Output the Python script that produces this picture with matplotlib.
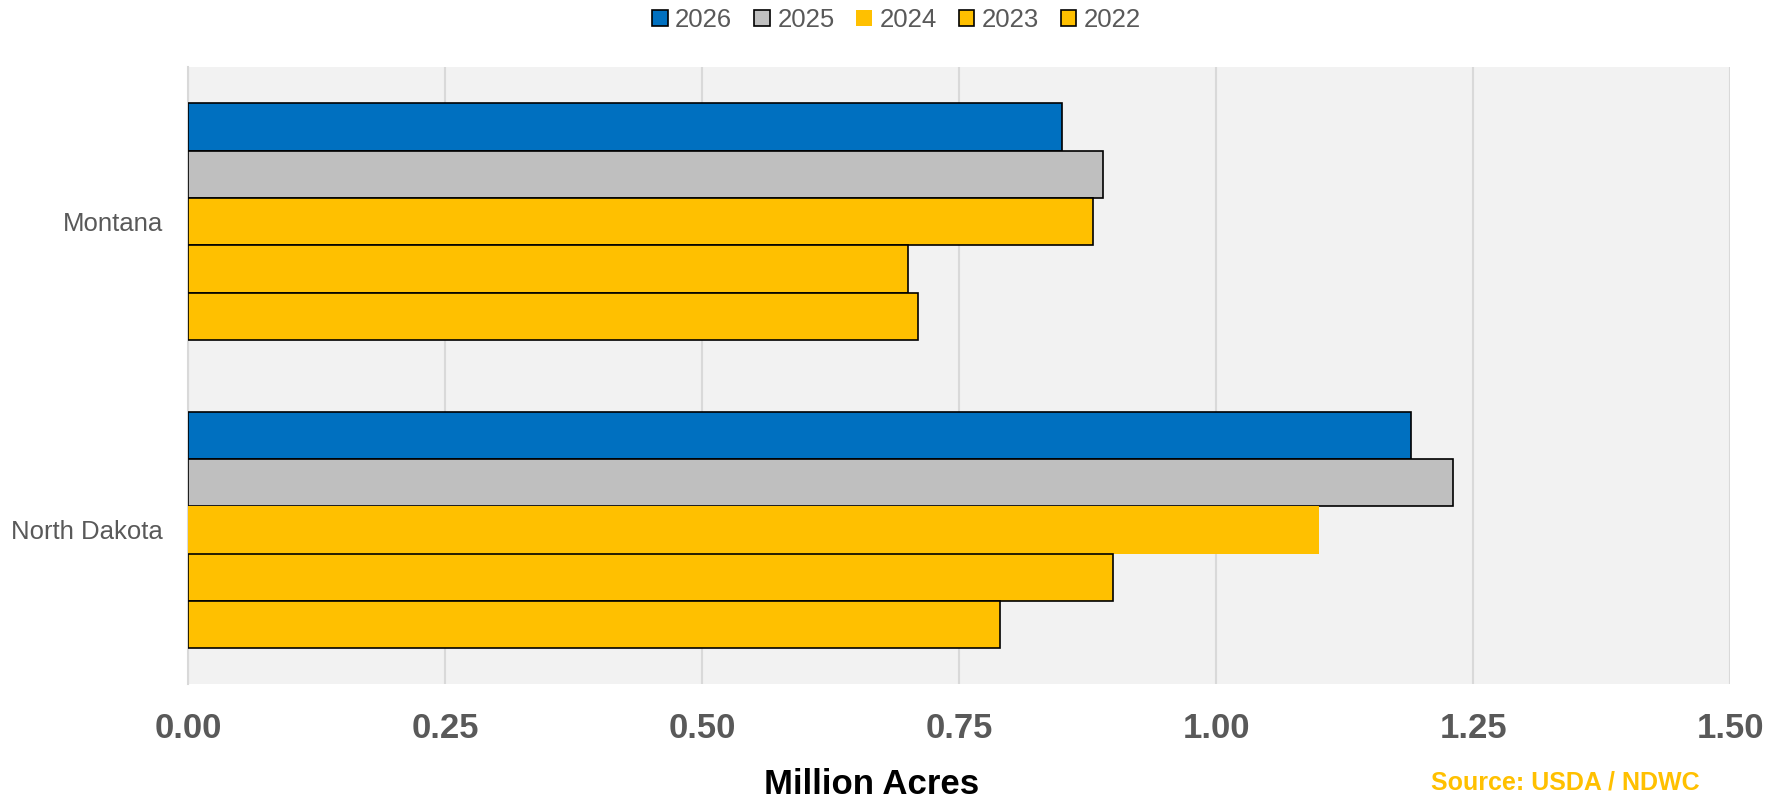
import matplotlib.pyplot as plt
import numpy as np

plt.rcParams["font.family"] = ["Liberation Sans", "DejaVu Sans"]

states = ["Montana", "North Dakota"]
years = ["2026", "2025", "2024", "2023", "2022"]
acres = {
    "2026": [0.85, 1.19],
    "2025": [0.89, 1.23],
    "2024": [0.88, 1.10],
    "2023": [0.70, 0.90],
    "2022": [0.71, 0.79],
}
colors = {
    "2026": "#0070C0",
    "2025": "#BFBFBF",
    "2024": "#FFC000",
    "2023": "#FFC000",
    "2022": "#FFC000",
}
# the 2024 North Dakota bar (and its legend key) is drawn without outline
edges = {
    "2026": ["black", "black"],
    "2025": ["black", "black"],
    "2024": ["black", "none"],
    "2023": ["black", "black"],
    "2022": ["black", "black"],
}
xticks = [0.0, 0.25, 0.5, 0.75, 1.0, 1.25, 1.5]

fig = plt.figure(figsize=(17.79, 8.02), dpi=100)
ax = fig.add_axes([0.1057, 0.147, 0.9725 - 0.1057, 0.916 - 0.147])
ax.set_facecolor("#F2F2F2")

y = np.arange(len(states))
h = 0.1535
for i, yr in enumerate(years):
    off = (i - 2) * h
    ax.barh(y + off, acres[yr], height=h, color=colors[yr],
            edgecolor=edges[yr], linewidth=1.2, zorder=3)

ax.set_ylim(1.5, -0.5)
ax.set_xlim(0, 1.5)
ax.set_xticks(xticks)
ax.set_xticklabels([f"{t:.2f}" for t in xticks])
ax.set_yticks(y)
ax.set_yticklabels(states)

ax.tick_params(axis="x", length=0, pad=20, labelsize=25, labelcolor="#595959")
for lbl in ax.get_xticklabels():
    lbl.set_fontweight("bold")
ax.tick_params(axis="y", length=0, pad=18, labelsize=18.5, labelcolor="#595959")

ax.grid(axis="x", color="#D9D9D9", linewidth=1.5, zorder=0)
for s in ["top", "right", "bottom"]:
    ax.spines[s].set_visible(False)
ax.spines["left"].set_color("#D9D9D9")
ax.spines["left"].set_linewidth(1.5)

# legend
handles = []
for yr in years:
    ec = "none" if yr == "2024" else "black"
    handles.append(plt.Rectangle((0, 0), 1, 1, facecolor=colors[yr],
                                 edgecolor=ec, linewidth=1.2))
fig.legend(handles, years, loc="upper center", bbox_to_anchor=(0.504, 1.019),
           ncol=5, frameon=False, fontsize=18.5, labelcolor="#595959",
           handlelength=0.6, handleheight=0.6, handletextpad=0.3,
           columnspacing=0.85)

fig.text(872 / 1779, 1 - 785 / 802, "Million Acres", ha="center", va="center",
         fontsize=25, fontweight="bold", color="black")
fig.text(1700 / 1779, 1 - 783 / 802, "Source: USDA / NDWC", ha="right",
         va="center", fontsize=18, fontweight="bold", color="#FFC000")

fig.savefig("out.png", dpi=100)
